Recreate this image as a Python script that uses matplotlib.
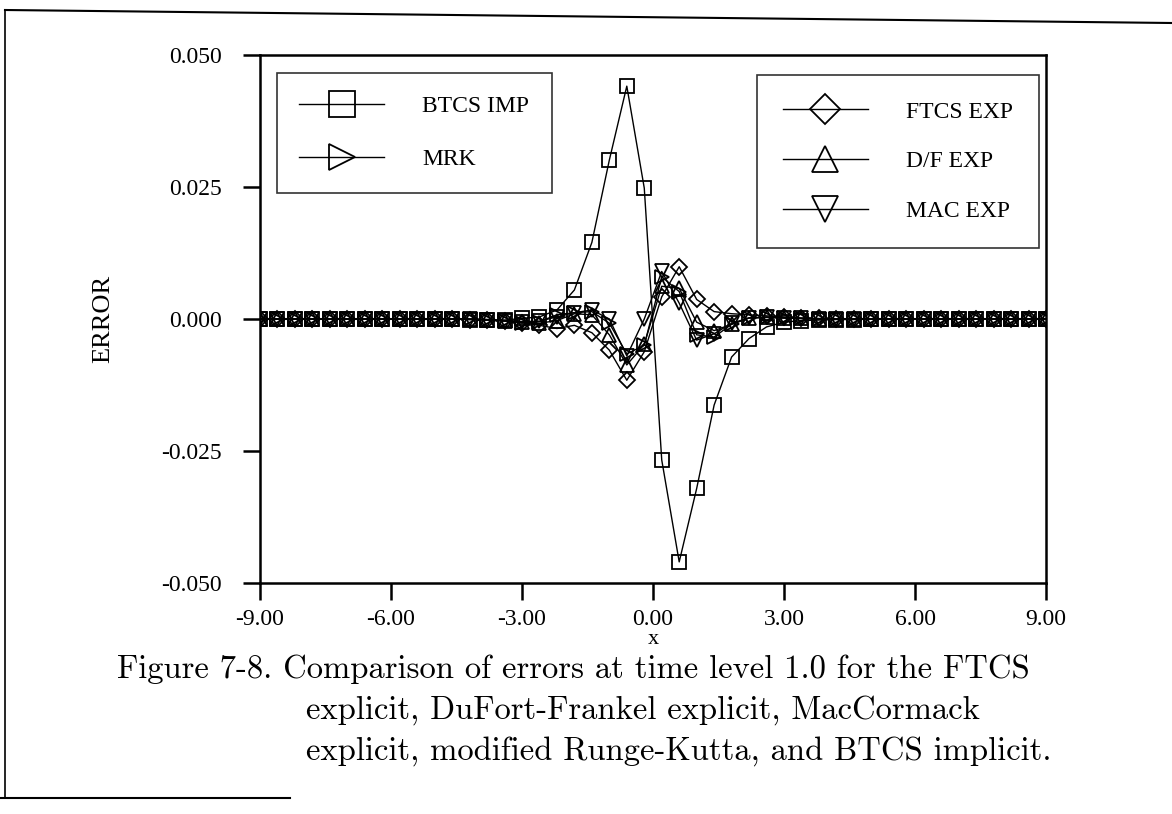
import numpy as np
import matplotlib
matplotlib.use("Agg")
import matplotlib.pyplot as plt
from matplotlib.lines import Line2D

plt.rcParams['axes.unicode_minus'] = False

# ---------------- data ----------------
x = [-9.0, -8.6, -8.2, -7.8, -7.4, -7.0, -6.6, -6.2, -5.8, -5.4,
     -5.0, -4.6, -4.2, -3.8, -3.4, -3.0, -2.6, -2.2, -1.8, -1.4,
     -1.0, -0.6, -0.2, 0.2, 0.6, 1.0, 1.4, 1.8, 2.2, 2.6,
     3.0, 3.4, 3.8, 4.2, 4.6, 5.0, 5.4, 5.8, 6.2, 6.6,
     7.0, 7.4, 7.8, 8.2, 8.6, 9.0]

btcs_imp = [0.0, 0.0, 0.0, 0.0, 0.0, 0.0, 0.0, 0.0, 0.0, 0.0,
            0.0, 0.0, -0.0001, -0.0002, -0.0002, 0.0001, 0.0004, 0.0017, 0.0055, 0.0145,
            0.0301, 0.0441, 0.0248, -0.0267, -0.0460, -0.0321, -0.0163, -0.0072, -0.0037, -0.0015,
            -0.0006, -0.0003, -0.0002, -0.0001, -0.0001, 0.0, 0.0, 0.0, 0.0, 0.0,
            0.0, 0.0, 0.0, 0.0, 0.0, 0.0]

mrk = [0.0, 0.0, 0.0, 0.0, 0.0, 0.0, 0.0, 0.0, 0.0, 0.0,
       0.0, 0.0, 0.0, -0.0002, -0.0004, -0.0008, -0.0005, 0.0008, 0.0012, 0.0014,
       -0.0008, -0.0066, -0.0050, 0.0080, 0.0052, -0.0030, -0.0034, -0.0010, 0.0002, 0.0003,
       0.0002, 0.0001, 0.0, 0.0, 0.0, 0.0, 0.0, 0.0, 0.0, 0.0,
       0.0, 0.0, 0.0, 0.0, 0.0, 0.0]

ftcs_exp = [0.0, 0.0, 0.0, 0.0, 0.0, 0.0, 0.0, 0.0, 0.0, 0.0,
            0.0, 0.0, -0.0001, -0.0002, -0.0004, -0.0007, -0.0012, -0.0018, -0.0012, -0.0026,
            -0.0059, -0.0116, -0.0062, 0.0042, 0.0099, 0.0037, 0.0014, 0.0010, 0.0008, 0.0006,
            0.0004, 0.0002, 0.0001, 0.0, 0.0, 0.0, 0.0, 0.0, 0.0, 0.0,
            0.0, 0.0, 0.0, 0.0, 0.0, 0.0]

df_exp = [0.0, 0.0, 0.0, 0.0, 0.0, 0.0, 0.0, 0.0, 0.0, 0.0,
          0.0, 0.0, 0.0, -0.0001, -0.0003, -0.0006, -0.0008, -0.0003, 0.0010, 0.0008,
          -0.0030, -0.0087, -0.0048, 0.0062, 0.0058, -0.0006, -0.0022, -0.0010, 0.0002, 0.0004,
          0.0002, 0.0001, 0.0, 0.0, 0.0, 0.0, 0.0, 0.0, 0.0, 0.0,
          0.0, 0.0, 0.0, 0.0, 0.0, 0.0]

mac_exp = [0.0, 0.0, 0.0, 0.0, 0.0, 0.0, 0.0, 0.0, 0.0, 0.0,
           0.0, 0.0, 0.0, -0.0001, -0.0003, -0.0005, -0.0004, 0.0004, 0.0012, 0.0017,
           0.0000, -0.0070, 0.0000, 0.0090, 0.0030, -0.0040, -0.0028, -0.0008, 0.0002, 0.0003,
           0.0002, 0.0001, 0.0, 0.0, 0.0, 0.0, 0.0, 0.0, 0.0, 0.0,
           0.0, 0.0, 0.0, 0.0, 0.0, 0.0]

x_ticks = [-9.0, -6.0, -3.0, 0.0, 3.0, 6.0, 9.0]
y_ticks = [-0.050, -0.025, 0.000, 0.025, 0.050]

caption = ["Figure 7-8. Comparison of errors at time level 1.0 for the FTCS",
           "explicit, DuFort-Frankel explicit, MacCormack",
           "explicit, modified Runge-Kutta, and BTCS implicit."]

# ---------------- figure ----------------
W, H = 1172, 814
fig = plt.figure(figsize=(W / 100, H / 100), dpi=100)
fig.patch.set_facecolor('white')

serif = ['Liberation Serif', 'DejaVu Serif']
ax = fig.add_axes([260 / W, 1 - 583 / H, (1046 - 260) / W, (583 - 55) / H])

common = dict(color='black', lw=1.0, mfc='none', mec='black', mew=1.3)
h_btcs, = ax.plot(x, btcs_imp, marker='s', ms=10, label='BTCS IMP', **common)
h_mrk, = ax.plot(x, mrk, marker='>', ms=10, label='MRK', **common)
h_ftcs, = ax.plot(x, ftcs_exp, marker='D', ms=8, label='FTCS EXP', **common)
h_df, = ax.plot(x, df_exp, marker='^', ms=10, label='D/F EXP', **common)
h_mac, = ax.plot(x, mac_exp, marker='v', ms=10, label='MAC EXP', **common)

ax.set_xlim(-9, 9)
ax.set_ylim(-0.05, 0.05)
ax.set_xticks(x_ticks)
ax.set_yticks(y_ticks)
ax.set_xticklabels(["%.2f" % v for v in x_ticks], family=serif, fontsize=17)
ax.set_yticklabels(["%.3f" % v for v in y_ticks], family=serif, fontsize=17)
ax.tick_params(direction='out', length=12.5, width=1.8)
ax.tick_params(axis='x', pad=6)
ax.tick_params(axis='y', pad=15)
for s in ax.spines.values():
    s.set_linewidth(1.8)

ax.set_xlabel('x', family=serif, fontsize=16, labelpad=0)
ax.set_ylabel('ERROR', family=serif, fontsize=19, labelpad=34)

leg_kw = dict(loc='upper left', bbox_transform=fig.transFigure, frameon=True,
              fancybox=False, edgecolor='black', borderaxespad=0, markerscale=1.9,
              handlelength=3.6, handletextpad=1.6,
              prop={'family': serif, 'size': 17})
leg1 = ax.legend(handles=[h_btcs, h_mrk], bbox_to_anchor=(277 / W, 1 - 73 / H),
                 labelspacing=1.35, borderpad=0.95, **leg_kw)
leg1.get_frame().set_linewidth(1.2)
ax.add_artist(leg1)
leg2 = ax.legend(handles=[h_ftcs, h_df, h_mac], bbox_to_anchor=(757 / W, 1 - 75 / H),
                 labelspacing=1.2, borderpad=1.1, **leg_kw)
leg2.get_frame().set_linewidth(1.2)

# caption
cap_font = ['cmr10', 'DejaVu Serif']
fig.text(117 / W, 1 - 669 / H, caption[0], family=cap_font, fontsize=23.5, va='center', ha='left')
fig.text(306 / W, 1 - 710 / H, caption[1], family=cap_font, fontsize=23.5, va='center', ha='left')
fig.text(306 / W, 1 - 751 / H, caption[2], family=cap_font, fontsize=23.5, va='center', ha='left')

# scanned page frame
fig.add_artist(Line2D([5 / W, 5 / W], [1 - 10 / H, 1 - 798 / H], transform=fig.transFigure, color='black', lw=1.2))
fig.add_artist(Line2D([5 / W, 1.0], [1 - 10 / H, 1 - 23 / H], transform=fig.transFigure, color='black', lw=1.5))
fig.add_artist(Line2D([0.0, 290 / W], [1 - 798 / H, 1 - 798 / H], transform=fig.transFigure, color='black', lw=1.5))

fig.savefig('out.png', dpi=100, facecolor='white')
